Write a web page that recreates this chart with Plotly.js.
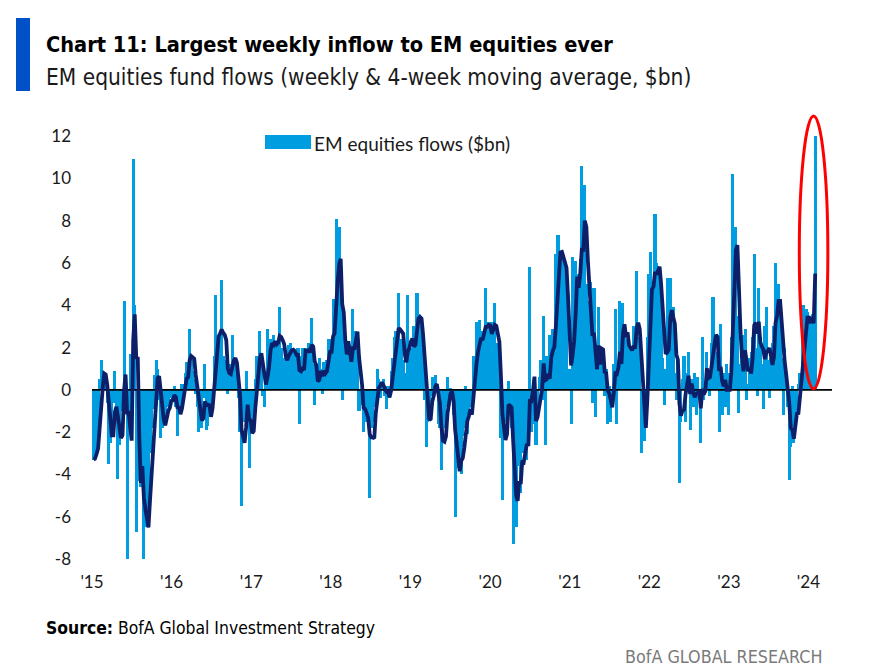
<!DOCTYPE html>
<html>
<head>
<meta charset="utf-8">
<script src="https://cdn.plot.ly/plotly-3.0.1.min.js"></script>
<style>
html,body{margin:0;padding:0;background:#ffffff;}
#chart{width:873px;height:666px;}
</style>
</head>
<body>
<div id="chart"></div>
<script>
// Weekly EM equity fund flows ($bn), one array per calendar year
const flows2015 = [-3.3,-3.2,-2.6,-2.0,0.5,1.4,0.4,0.8,0.3,-0.6,
  -3.5,-2.5,-2.0,-0.6,0.9,-1.5,-4.2,-2.6,-0.8,-1.0,
  4.2,0.5,-8.0,-1.0,1.7,-2.3,10.9,4.0,-6.7,-2.0,
  -4.3,-4.6,-3.5,-8.0,-6.5,-6.2,-5.3,-3.0,-1.8,-0.9,
  0.7,1.4,1.0,-0.5,-2.3,-1.8,-1.0,-1.6,-0.6,-0.8,
  -0.4,-0.3];
const flows2016 = [-0.5,0.2,-0.8,-2.2,-0.6,-1.0,0.3,-0.3,0.8,1.3,
  0.6,2.9,1.6,0.9,0.5,-0.2,-0.8,-2.0,-1.2,-1.8,
  -0.4,1.2,-1.9,-1.7,-0.5,-1.0,-0.3,1.6,4.5,2.2,
  1.8,2.2,5.2,1.6,1.4,1.2,-0.2,0.8,1.2,2.6,
  1.0,1.2,0.3,-0.4,-2.0,-5.5,-1.0,-1.5,0.9,-1.2,
  -3.7,-1.8];
const flows2017 = [-1.5,-0.8,0.5,1.6,1.0,2.8,1.5,-0.3,-0.8,0.6,
  2.9,1.5,2.4,2.0,2.6,2.2,1.8,2.3,3.9,2.0,
  1.2,1.5,1.7,1.2,2.1,2.2,2.0,1.3,1.8,1.5,
  2.0,-1.6,1.6,2.0,1.8,2.0,1.5,2.2,1.4,3.4,
  1.2,-0.7,0.8,0.3,1.5,1.0,-0.2,1.3,1.0,1.4,
  2.4,2.4];
const flows2018 = [1.0,4.3,3.0,8.1,5.0,7.7,4.0,-0.5,3.5,2.5,
  1.2,2.0,1.3,0.8,3.8,2.0,2.8,2.4,-1.0,-0.7,
  0.3,-2.0,-1.2,-1.5,-0.6,-5.1,-1.8,-1.5,-0.8,-0.3,
  1.0,0.5,-0.4,0.3,0.5,-0.3,-0.9,0.2,-0.4,0.9,
  1.5,2.5,2.8,1.8,4.6,2.2,2.4,1.4,0.8,0.6,
  4.5,2.0];
const flows2019 = [2.0,1.2,3.0,2.3,4.6,3.6,3.3,2.0,1.5,-0.5,
  -2.7,-1.5,-1.0,-0.3,0.6,-0.4,0.7,0.2,-1.6,-1.8,
  -3.8,-2.4,-1.8,-0.8,0.6,-0.6,0.1,-0.4,-1.2,-6.0,
  -2.7,-3.7,-3.0,-4.0,-2.2,-1.8,0.2,-2.1,-1.3,-0.5,
  -0.8,1.6,0.9,3.2,1.5,3.3,1.8,2.8,2.5,4.8,
  1.8,3.2];
const flows2020 = [2.4,3.2,2.6,4.1,2.2,1.8,1.0,-2.3,-5.2,-0.5,
  -1.5,-1.2,0.4,-0.7,-1.8,-7.3,-4.4,-6.5,-2.8,-3.6,
  -4.9,-2.1,-3.0,-1.8,-3.3,-2.5,5.8,-2.0,-1.6,0.3,
  -2.6,-1.3,0.6,1.4,-0.5,3.5,-2.6,1.6,0.5,2.6,
  1.4,2.9,1.2,6.4,7.3,7.3,5.0,6.5,6.3,6.0,
  4.3,0.9];
const flows2021 = [1.0,-1.6,6.3,3.5,6.1,5.5,4.2,6.2,10.6,5.5,
  9.7,5.0,4.2,1.5,5.1,-0.6,4.8,-1.3,1.0,3.9,
  1.2,1.7,0.8,-0.3,1.0,-1.6,0.2,-1.5,-0.4,1.2,
  3.8,-1.6,0.8,4.2,1.5,4.1,2.6,1.8,2.4,1.6,
  2.0,1.5,3.0,1.6,5.6,2.5,1.8,-3.0,-0.8,-2.4,
  -1.0,2.5];
const flows2022 = [5.5,6.5,4.5,3.0,8.3,6.0,5.5,3.5,5.0,1.5,
  -0.7,1.0,5.3,2.0,5.3,2.5,3.9,0.8,-0.5,1.5,
  -4.4,-1.5,0.5,1.6,-1.5,0.8,1.8,-1.9,0.5,-0.8,
  0.8,-1.2,0.6,-0.4,-2.5,2.5,-0.5,0.3,1.8,0.6,
  -0.3,2.2,4.4,2.3,1.5,1.8,-2.0,3.1,-1.2,0.8,
  -0.8,1.2];
const flows2023 = [-1.2,0.8,2.5,10.2,6.0,7.7,3.5,-1.1,1.2,2.6,
  0.8,2.9,-0.5,0.3,1.5,1.8,2.5,6.4,2.0,-0.3,
  4.8,2.5,1.2,-0.9,3.0,3.9,1.4,-0.4,1.5,2.2,
  3.0,6.0,2.8,5.0,3.0,1.5,-1.2,2.0,0.5,-0.8,
  -4.25,-2.7,0.2,-2.5,-1.0,-1.2,0.3,0.8,0.5,4.0,
  2.5,3.8];
const flows2024 = [3.7,2.6,3.4,3.6,3.0,12.0];

const firstWeek = '2015-01-08';
const xRange = ['2015-01-01', '2024-04-18'];
const yRange = [-8.14, 13.09];
const yearTicks = ['2015-01-01','2016-01-01','2017-01-01','2018-01-01','2019-01-01',
  '2020-01-01','2021-01-01','2022-01-01','2023-01-01','2024-01-01'];
const yearLabels = ["'15","'16","'17","'18","'19","'20","'21","'22","'23","'24"];
const yTicks = [-8,-6,-4,-2,0,2,4,6,8,10,12];
const legendLabel = 'EM equities flows ($bn)';

const weekly = [].concat(flows2015, flows2016, flows2017, flows2018, flows2019,
  flows2020, flows2021, flows2022, flows2023, flows2024);
const DAY = 86400000;
const t0 = Date.parse(firstWeek + 'T00:00:00Z');
const dates = weekly.map((_, i) => new Date(t0 + i * 7 * DAY).toISOString().slice(0, 10));
// 4-week moving average of the weekly series
const ma4 = weekly.map((_, i) => {
  const w = weekly.slice(Math.max(0, i - 3), i + 1);
  return w.reduce((a, b) => a + b, 0) / w.length;
});

const BAR = '#009EE0';
const NAVY = '#0C1F68';
const TXT = '#1a1a1a';
const NARROW = '"Liberation Sans Narrow", "DejaVu Sans Condensed", "Arial Narrow", sans-serif';
const SANS = 'Lato, "Liberation Sans", Arial, sans-serif';

const traces = [
  { type: 'bar', x: dates, y: weekly, width: 14 * DAY, marker: { color: BAR, line: { width: 0 } },
    name: legendLabel, hoverinfo: 'x+y' },
  { type: 'scatter', mode: 'lines', x: xRange, y: [0, 0], line: { color: '#000', width: 1.6 },
    hoverinfo: 'skip' },
  { type: 'scatter', mode: 'lines', x: dates, y: ma4, line: { color: NAVY, width: 3.8 },
    name: '4-week moving average', hoverinfo: 'x+y' }
];

const L = 92, R = 41, T = 113, B = 104, W = 873, H = 666;
const pw = W - L - R, ph = H - T - B;
const px = v => (v - L) / pw;        // pixel x -> paper x
const py = v => (H - B - v) / ph;    // pixel y -> paper y

const layout = {
  width: W, height: H,
  margin: { l: L, r: R, t: T, b: B, pad: 0 },
  paper_bgcolor: '#fff', plot_bgcolor: '#fff',
  showlegend: false, bargap: 0, barmode: 'overlay',
  xaxis: {
    type: 'date', range: xRange, tickmode: 'array', tickvals: yearTicks, ticktext: yearLabels,
    showgrid: false, zeroline: false, showline: false, ticks: '',
    tickfont: { family: SANS, size: 17, color: TXT }, ticklabelstandoff: 8, fixedrange: true
  },
  yaxis: {
    range: yRange, tickmode: 'array', tickvals: yTicks, ticktext: yTicks.map(String),
    showgrid: false, zeroline: false, showline: false, ticks: '',
    tickfont: { family: SANS, size: 17, color: TXT }, ticklabelstandoff: 20, fixedrange: true
  },
  shapes: [
    // red ellipse around the record inflow
    { type: 'circle', xref: 'x', yref: 'y', x0: '2023-11-20', x1: '2024-03-30', y0: 0.05, y1: 12.95,
      line: { color: '#FF0000', width: 3 }, fillcolor: 'rgba(0,0,0,0)', layer: 'above' },
    // legend swatch
    { type: 'rect', xref: 'paper', yref: 'paper', x0: px(265), x1: px(311), y0: py(149), y1: py(135),
      fillcolor: BAR, line: { width: 0 } },
    // blue side bar beside the title
    { type: 'rect', xref: 'paper', yref: 'paper', x0: px(16), x1: px(30), y0: py(91), y1: py(18),
      fillcolor: '#0050C8', line: { width: 0 } }
  ],
  annotations: [
    { xref: 'paper', yref: 'paper', x: px(44), y: py(44), xanchor: 'left', yanchor: 'middle',
      text: '<b>Chart 11: Largest weekly inflow to EM equities ever</b>', showarrow: false,
      font: { family: NARROW, size: 21.6, color: '#000' } },
    { xref: 'paper', yref: 'paper', x: px(44), y: py(77), xanchor: 'left', yanchor: 'middle',
      text: 'EM equities fund flows (weekly &amp; 4-week moving average, $bn)', showarrow: false,
      font: { family: NARROW, size: 22.5, color: '#1a1a1a' } },
    { xref: 'paper', yref: 'paper', x: px(312), y: py(143), xanchor: 'left', yanchor: 'middle',
      text: legendLabel, showarrow: false, font: { family: SANS, size: 19, color: TXT } },
    { xref: 'paper', yref: 'paper', x: px(44), y: py(628), xanchor: 'left', yanchor: 'middle',
      text: '<b>Source:</b> BofA Global Investment Strategy', showarrow: false,
      font: { family: NARROW, size: 17.4, color: '#000' } },
    { xref: 'paper', yref: 'paper', x: px(824), y: py(656), xanchor: 'right', yanchor: 'middle',
      text: 'BofA GLOBAL RESEARCH', showarrow: false,
      font: { family: NARROW, size: 17.8, color: '#7a7a7a' } }
  ]
};

Plotly.newPlot('chart', traces, layout, { displayModeBar: false, staticPlot: true });
</script>
</body>
</html>
